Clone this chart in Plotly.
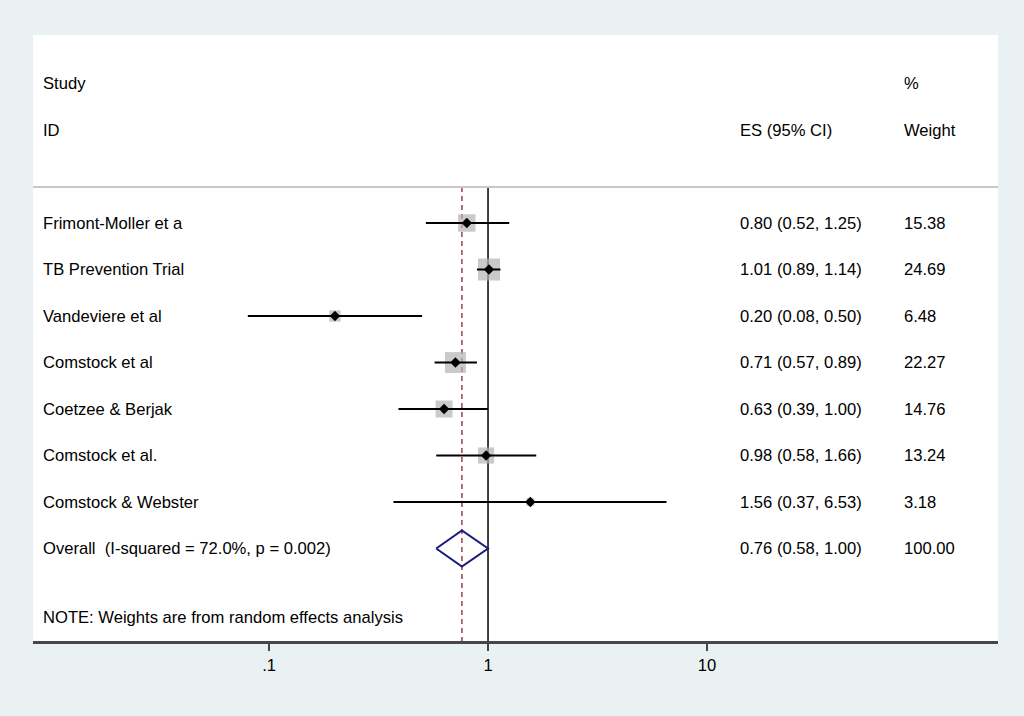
import plotly.graph_objects as go
import math

studies = ["Frimont-Moller et a", "TB Prevention Trial", "Vandeviere et al", "Comstock et al",
           "Coetzee & Berjak", "Comstock et al.", "Comstock & Webster"]
es = [0.80, 1.01, 0.20, 0.71, 0.63, 0.98, 1.56]
lo = [0.52, 0.89, 0.08, 0.57, 0.39, 0.58, 0.37]
hi = [1.25, 1.14, 0.50, 0.89, 1.00, 1.66, 6.53]
weights = [15.38, 24.69, 6.48, 22.27, 14.76, 13.24, 3.18]
overall_label = "Overall  (I-squared = 72.0%, p = 0.002)"
overall_es, overall_lo, overall_hi = 0.76, 0.58, 1.00
overall_weight = 100.00
tick_vals = [0.1, 1, 10]
tick_text = [".1", "1", "10"]

rows = list(range(1, len(studies) + 1))
overall_row = len(studies) + 1
note_row = 9.49
sep_row = 0.226
y_top, y_bot = -3.043, 9.989

FONT = "Liberation Sans, Arial, Helvetica, sans-serif"
fig = go.Figure()

# vertical reference lines
fig.add_trace(go.Scatter(x=[1, 1], y=[sep_row, y_bot], mode="lines",
                         line=dict(color="black", width=1.5), hoverinfo="skip", showlegend=False))
fig.add_trace(go.Scatter(x=[overall_es, overall_es], y=[sep_row, y_bot], mode="lines",
                         line=dict(color="#9c4048", width=1.5, dash="5px,4px"),
                         hoverinfo="skip", showlegend=False))

# weight boxes
fig.add_trace(go.Scatter(x=es, y=rows, mode="markers",
                         marker=dict(symbol="square", size=[4.43 * math.sqrt(w) for w in weights],
                                     color="rgb(180,180,180)", line=dict(width=0)),
                         hoverinfo="skip", showlegend=False))

# CI lines
cx, cy = [], []
for l, h, r in zip(lo, hi, rows):
    cx += [l, h, None]
    cy += [r, r, None]
fig.add_trace(go.Scatter(x=cx, y=cy, mode="lines", line=dict(color="black", width=2),
                         hoverinfo="skip", showlegend=False))

# point estimates
fig.add_trace(go.Scatter(x=es, y=rows, mode="markers",
                         marker=dict(symbol="diamond", size=8, color="black"),
                         hoverinfo="skip", showlegend=False))

# overall diamond
h = 0.39
fig.add_trace(go.Scatter(x=[overall_lo, overall_es, overall_hi, overall_es, overall_lo],
                         y=[overall_row, overall_row - h, overall_row, overall_row + h, overall_row],
                         mode="lines", line=dict(color="#1a1a7a", width=2),
                         hoverinfo="skip", showlegend=False))

# separator
fig.add_shape(type="line", xref="paper", yref="y", x0=0, x1=1, y0=sep_row, y1=sep_row,
              line=dict(color="#c8c8c8", width=2))

def px_to_paper(px):
    return (px - 33) / 965.0

x_lab = px_to_paper(41)
x_es = px_to_paper(738)
x_w = px_to_paper(902)

ann = []
def add_text(x, y, t):
    ann.append(dict(x=x, y=y, xref="paper", yref="y", text=t, showarrow=False,
                    xanchor="left", yanchor="middle", font=dict(family=FONT, size=16.6, color="black")))

add_text(x_lab, -2, "Study")
add_text(x_lab, -1, "ID")
add_text(x_es, -1, "ES (95% CI)")
add_text(x_w, -2, "%")
add_text(x_w, -1, "Weight")
for s, e, l, hh, w, r in zip(studies, es, lo, hi, weights, rows):
    add_text(x_lab, r, s)
    add_text(x_es, r, f"{e:.2f} ({l:.2f}, {hh:.2f})")
    add_text(x_w, r, f"{w:.2f}")
add_text(x_lab, overall_row, overall_label)
add_text(x_es, overall_row, f"{overall_es:.2f} ({overall_lo:.2f}, {overall_hi:.2f})")
add_text(x_w, overall_row, f"{overall_weight:.2f}")
add_text(x_lab, note_row, "NOTE: Weights are from random effects analysis")

fig.update_layout(
    width=1024, height=716,
    margin=dict(l=33, r=26, t=35, b=75),
    paper_bgcolor="#eaf1f3", plot_bgcolor="white",
    annotations=ann,
    showlegend=False,
    xaxis=dict(type="log", range=[-2.078, 2.329], tickvals=tick_vals, ticktext=tick_text,
               showgrid=False, zeroline=False, showline=True, linecolor="#474747", linewidth=2.5,
               ticks="outside", ticklen=7, tickwidth=1.5, tickcolor="#474747",
               tickfont=dict(family=FONT, size=16.6, color="black")),
    yaxis=dict(range=[y_bot, y_top], showgrid=False, zeroline=False, showticklabels=False,
               showline=False, ticks=""),
)

fig.write_html("out.html")
